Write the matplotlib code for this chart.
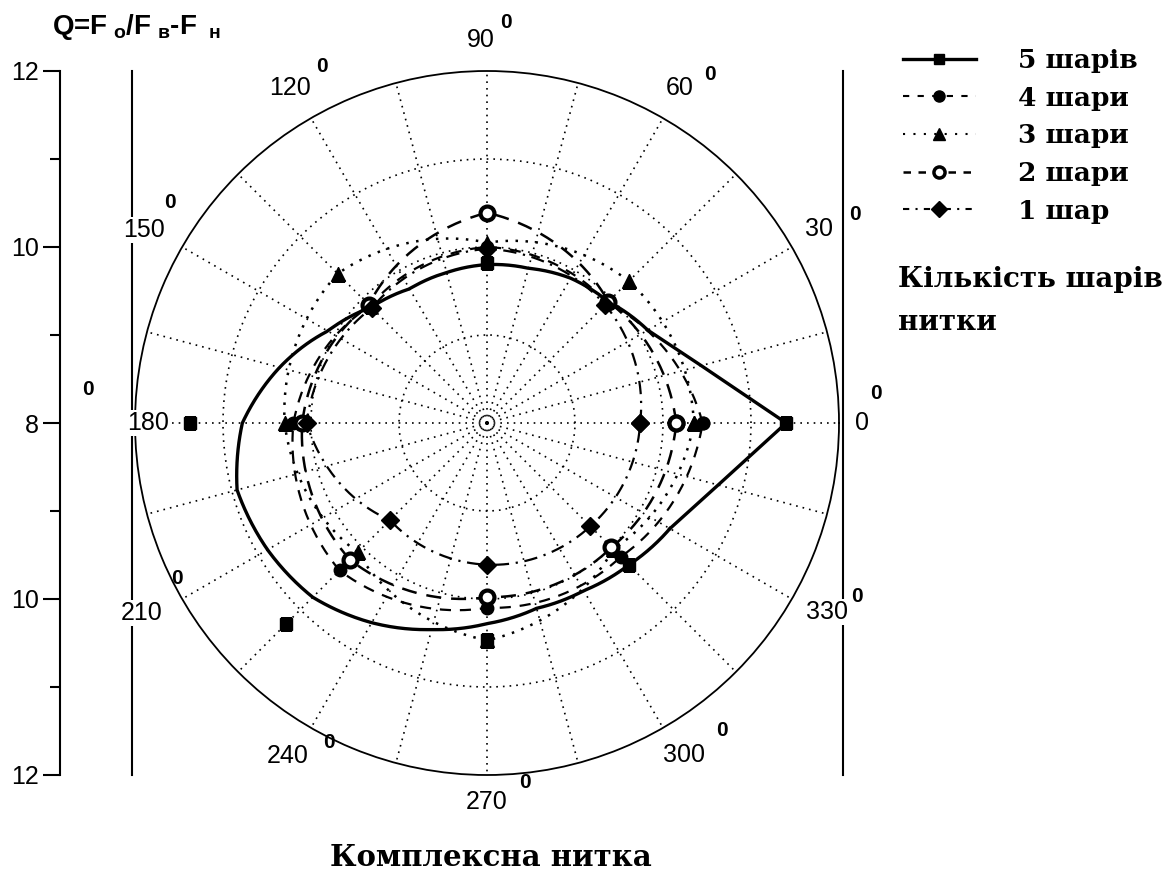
import numpy as np
import matplotlib
matplotlib.use('Agg')
import matplotlib.pyplot as plt
from matplotlib.lines import Line2D

# measured directions (degrees) and Q values for each number of thread layers
angles_deg = [0, 45, 90, 135, 180, 225, 270, 315]
layers_5 = [11.40, 9.95, 9.82, 9.87, 11.38, 11.23, 10.47, 10.28]
layers_4 = [10.45, 9.93, 10.00, 9.88, 10.20, 10.37, 10.10, 10.15]
layers_3 = [10.35, 10.28, 10.05, 10.40, 10.30, 10.08, 10.47, 10.03]
layers_2 = [10.15, 9.95, 10.39, 9.90, 10.10, 10.20, 9.98, 10.00]
layers_1 = [9.74, 9.90, 9.98, 9.85, 10.05, 9.56, 9.61, 9.66]

# smooth curve drawn for 5 layers (read every 15 degrees)
fit_angles_deg = list(range(0, 360, 15))
fit_5 = [11.40, 10.52, 10.11, 9.95, 9.90, 9.82, 9.80, 9.77, 9.76, 9.86, 10.09, 10.44,
         10.78, 10.94, 10.88, 10.80, 10.62, 10.43, 10.28, 10.18, 10.20, 10.28, 10.40, 10.72]

labels = ['5 шарів', '4 шари', '3 шари', '2 шари', '1 шар']
angle_labels = ['0', '30', '60', '90', '120', '150', '180', '210', '240', '270', '300', '330']
left_ticks = ['12', '10', '8', '10', '12']

W, H = 1169, 877


def fx(x):
    return x / W


def fy(y):
    return 1 - y / H


plt.rcParams['font.family'] = ['Liberation Sans', 'DejaVu Sans']
plt.rcParams['mathtext.default'] = 'regular'

fig = plt.figure(figsize=(W / 100, H / 100), dpi=100)

# polar area: centre (487,423), radius 352 px
cx, cy, R = 487, 423, 352
ax = fig.add_axes([fx(cx - R), fy(cy + R), 2 * R / W, 2 * R / H], projection='polar')
ax.set_ylim(8, 12)
ax.set_yticks([9, 10, 11])
ax.set_yticklabels([])
ax.set_xticks(np.radians(np.arange(0, 360, 15)))
ax.set_xticklabels([])
ax.grid(True, color='black', linestyle=(0, (1, 3)), linewidth=1.2)
ax.spines['polar'].set_linewidth(1.3)
ax.tick_params(length=0)


def closed(a, r):
    # close the loop going forward to 360 degrees
    t = np.radians(list(a) + [a[0] + 360])
    return t, list(r) + [r[0]]


def curved(lines):
    # draw segments as spiral arcs in the polar projection
    for ln in lines:
        ln.get_path()._interpolation_steps = 40


# fitted 5-layer curve: smooth from 30 to 330 deg, straight chords through the 0 deg tip
fa = np.array(fit_angles_deg)
fr = np.array(fit_5)
curved(ax.plot(np.radians(fa[2:23]), fr[2:23], color='black', lw=2.4, zorder=3))
tip_a = np.concatenate([fa[22:] - 360, fa[:3]])
tip_r = np.concatenate([fr[22:], fr[:3]])
ax.plot(np.radians(tip_a), tip_r, color='black', lw=2.4, zorder=3)
ax.plot(np.radians(angles_deg), layers_5, 's', color='black', ms=8, zorder=4)

t, r = closed(angles_deg, layers_4)
curved(ax.plot(t, r, color='black', lw=1.6, linestyle=(0, (5, 4)), marker='o', ms=9, zorder=4))
t, r = closed(angles_deg, layers_3)
curved(ax.plot(t, r, color='black', lw=1.8, linestyle=(0, (1, 3)), marker='^', ms=10, zorder=4))
t, r = closed(angles_deg, layers_2)
curved(ax.plot(t, r, color='black', lw=1.8, linestyle=(0, (6, 4)), marker='o', ms=10,
               mfc='white', mew=3, zorder=4))
t, r = closed(angles_deg, layers_1)
curved(ax.plot(t, r, color='black', lw=1.6, linestyle=(0, (6, 3, 1, 3)), marker='D', ms=9, zorder=4))

# left value scale
axl = fig.add_axes([fx(60), fy(cy + R), 0.0005, 2 * R / H])
axl.set_ylim(-4, 4)
axl.set_yticks([4, 2, 0, -2, -4])
axl.set_yticklabels(left_ticks, fontsize=18)
axl.set_yticks([3, 1, -1, -3], minor=True)
axl.tick_params(axis='y', which='major', length=12, width=1.5, pad=3)
axl.tick_params(axis='y', which='minor', length=7, width=1.5)
axl.set_xticks([])
for s in ['top', 'right', 'bottom']:
    axl.spines[s].set_visible(False)
axl.spines['left'].set_linewidth(1.5)

# frame lines either side of the circle
for x in [132, 843]:
    fig.add_artist(Line2D([fx(x), fx(x)], [fy(cy + R), fy(cy - R)], color='black', lw=1.5))

# angle labels with degree "0"
num_pos = [(862, 423), (819, 229), (680, 88), (481, 40), (290, 88), (144, 230),
           (148, 423), (142, 613), (288, 756), (487, 802), (684, 755), (827, 612)]
sup_pos = [(876, 393), (855, 214), (710, 75), (506, 22), (322, 66), (170, 202),
           (88, 390), (177, 578), (329, 742), (525, 782), (722, 731), (857, 597)]
for txt, (x, y), (sx, sy) in zip(angle_labels, num_pos, sup_pos):
    fig.text(fx(x), fy(y), txt, fontsize=18, ha='center', va='center',
             bbox=dict(facecolor='white', edgecolor='none', pad=0.5))
    fig.text(fx(sx), fy(sy), '0', fontsize=15, fontweight='bold', ha='center', va='center')

fig.text(fx(52), fy(27), r'Q=F$_{\ о}$/F$_{\ в}$-F$_{\ \ н}$', fontsize=20, fontweight='bold',
         ha='left', va='center')

# legend
handles = [
    Line2D([], [], color='black', lw=2.4, marker='s', ms=7),
    Line2D([], [], color='black', lw=1.5, linestyle=(0, (3, 4)), marker='o', ms=8),
    Line2D([], [], color='black', lw=1.5, linestyle=(0, (1, 4)), marker='^', ms=9),
    Line2D([], [], color='black', lw=1.8, linestyle=(0, (3, 3)), marker='o', ms=8, mfc='white', mew=2.5),
    Line2D([], [], color='black', lw=1.5, linestyle=(0, (3, 3, 1, 3)), marker='D', ms=8),
]
fig.legend(handles, labels, loc='upper left', bbox_to_anchor=(fx(903), fy(48)),
           frameon=False, prop={'family': 'DejaVu Serif', 'weight': 'bold', 'size': 19},
           handlelength=2.75, handletextpad=1.6, labelspacing=0.48, borderpad=0, borderaxespad=0)

serif = dict(family='DejaVu Serif', weight='bold')
fig.text(fx(898), fy(279), 'Кількість шарів', fontsize=20, ha='left', va='center', **serif)
fig.text(fx(898), fy(323), 'нитки', fontsize=20, ha='left', va='center', **serif)
fig.text(fx(491), fy(857), 'Комплексна нитка', fontsize=21, ha='center', va='center', **serif)

fig.savefig('out.png', dpi=100)
